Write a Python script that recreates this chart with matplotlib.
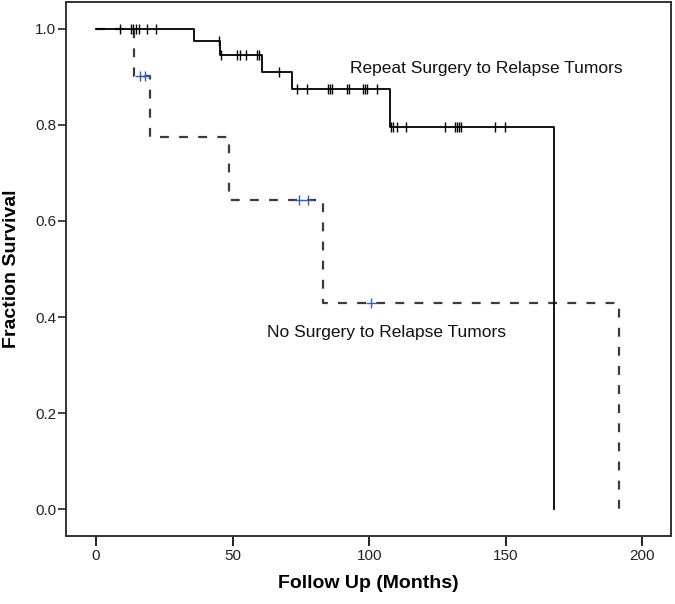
import numpy as np
import matplotlib.pyplot as plt

plt.rcParams['font.family'] = ['Liberation Sans', 'DejaVu Sans']

# Kaplan-Meier steps (months, fraction surviving)
rep_t = [0, 35.9, 45.4, 60.8, 71.6, 107.6, 167.6]
rep_s = [1.0, 0.974, 0.945, 0.911, 0.875, 0.796, 0.0]
rep_cens = [8.8, 12.7, 13.4, 14.6, 15.7, 18.8, 22.0, 44.9, 45.9,
            51.7, 52.7, 54.9, 59.0, 59.8, 66.9, 73.5, 77.3, 84.9, 85.7,
            86.4, 91.8, 92.7, 97.8, 98.6, 99.3, 102.7, 108.0, 108.8,
            110.1, 113.5, 127.9, 131.5, 132.2, 133.0, 133.7, 145.9, 149.6]

no_t = [0, 13.9, 19.8, 48.8, 83.0, 191.5]
no_s = [1.0, 0.902, 0.775, 0.644, 0.430, 0.0]
no_cens = [16.1, 17.9, 74.4, 77.7, 100.5]

xticks = [0, 50, 100, 150, 200]
yticks = [0.0, 0.2, 0.4, 0.6, 0.8, 1.0]


def surv_at(times, surv, t):
    # value of the step function at time t
    idx = np.searchsorted(times, t, side='right') - 1
    return np.asarray(surv)[idx]


fig = plt.figure(figsize=(6.75, 6.04), dpi=100)
ax = fig.add_axes([66 / 675, 1 - 536 / 604, 605 / 675, 534 / 604])

# no surgery group (dashed)
ax.step(no_t, no_s, where='post', color='#3c3c3c', lw=1.6,
        linestyle=(0, (4.0, 4.6)))
ax.plot(no_cens, surv_at(no_t, no_s, no_cens), '+', color='#3a5bbf',
        markersize=7, mew=1.0)

# repeat surgery group (solid)
ax.step(rep_t, rep_s, where='post', color='black', lw=1.3)
ax.plot(rep_cens, surv_at(rep_t, rep_s, rep_cens), '|', color='black',
        markersize=7, mew=1.0)

ax.text(93, 0.917, "Repeat Surgery to Relapse Tumors", fontsize=12.5,
        va='center', ha='left', color='#111111')
ax.text(62.6, 0.368, "No Surgery to Relapse Tumors", fontsize=12.5,
        va='center', ha='left', color='#111111')

ax.set_xlim(-11, 210.5)
ax.set_ylim(-0.056, 1.056)
ax.set_xticks(xticks)
ax.set_yticks(yticks)
ax.set_yticklabels([f"{v:.1f}" for v in yticks])

for sp in ax.spines.values():
    sp.set_linewidth(1.4)
    sp.set_color('#333333')
ax.tick_params(axis='x', direction='out', length=7.5, width=1.4,
               labelsize=11, pad=1.5, colors='#222222')
ax.tick_params(axis='y', direction='out', length=6, width=1.2,
               labelsize=11, pad=1, colors='#222222')

ax.set_xlabel("Follow Up (Months)", fontsize=14, fontweight='bold',
              labelpad=9)
ax.set_ylabel("Fraction Survival", fontsize=14, fontweight='bold',
              labelpad=11)

fig.savefig("out.png", dpi=100)
